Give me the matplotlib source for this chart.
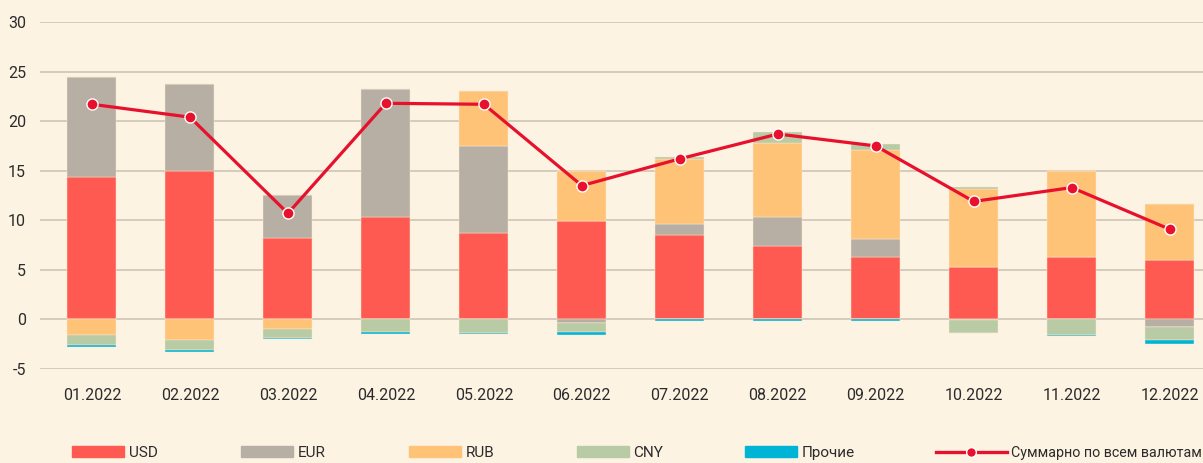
import matplotlib
matplotlib.use("Agg")
import matplotlib.pyplot as plt
import numpy as np
from matplotlib.lines import Line2D
from matplotlib.patches import Patch

months = ["01.2022", "02.2022", "03.2022", "04.2022", "05.2022", "06.2022",
          "07.2022", "08.2022", "09.2022", "10.2022", "11.2022", "12.2022"]

# positive parts
usd_pos = [14.4, 15.0, 8.2, 10.3, 8.7, 9.9, 8.5, 7.4, 6.3, 5.3, 6.3, 6.0]
eur_pos = [10.1, 8.7, 4.4, 12.9, 8.8, 0.0, 1.1, 2.9, 1.8, 0.0, 0.0, 0.0]
rub_pos = [0.0, 0.0, 0.0, 0.0, 5.5, 5.1, 6.6, 7.5, 9.0, 7.9, 8.7, 5.6]
cny_pos = [0.0, 0.0, 0.0, 0.0, 0.0, 0.0, 0.2, 1.1, 0.6, 0.2, 0.0, 0.0]
# negative parts
eur_neg = [0.0, 0.0, 0.0, 0.0, 0.0, -0.4, 0.0, 0.0, 0.0, -0.1, 0.0, -0.77]
rub_neg = [-1.6, -2.1, -1.0, 0.0, 0.0, 0.0, 0.0, 0.0, 0.0, 0.0, 0.0, 0.0]
cny_neg = [-1.0, -1.0, -0.9, -1.3, -1.35, -0.9, 0.0, 0.0, 0.0, -1.3, -1.55, -1.28]
oth_neg = [-0.15, -0.2, -0.1, -0.15, -0.12, -0.25, -0.15, -0.15, -0.15, 0.0, -0.15, -0.4]

total = [21.7, 20.4, 10.7, 21.8, 21.7, 13.5, 16.2, 18.7, 17.5, 11.9, 13.3, 9.1]

yticks = [-5, 0, 5, 10, 15, 20, 25, 30]
legend_labels = ["USD", "EUR", "RUB", "CNY", "Прочие", "Суммарно по всем валютам"]

c_usd = "#FF5A52"
c_eur = "#B7AFA3"
c_rub = "#FFC378"
c_cny = "#B8CBA4"
c_oth = "#00B4D6"
c_line = "#E8112D"
bg = "#FDF3E3"
grid_c = "#CFC5B6"
txt_c = "#2B2B2B"

plt.rcParams["font.family"] = ["Roboto", "DejaVu Sans"]

W, H = 1203, 463
fig = plt.figure(figsize=(W / 100, H / 100), dpi=100, facecolor=bg)
ax = fig.add_axes([0.0333, 0.203, 0.9667, 0.7495])
ax.set_facecolor(bg)

x = np.arange(len(months))
w = 0.5
ekw = dict(width=w, edgecolor="#FBEBD3", linewidth=0.3, zorder=2)

bot = np.zeros(len(x))
for vals, col in [(usd_pos, c_usd), (eur_pos, c_eur), (rub_pos, c_rub), (cny_pos, c_cny)]:
    v = np.array(vals)
    ax.bar(x, v, bottom=bot, color=col, **ekw)
    bot = bot + v

bot = np.zeros(len(x))
for vals, col in [(eur_neg, c_eur), (rub_neg, c_rub), (cny_neg, c_cny), (oth_neg, c_oth)]:
    v = np.array(vals)
    ax.bar(x, v, bottom=bot, color=col, **ekw)
    bot = bot + v

ax.plot(x, total, color=c_line, lw=2.3, zorder=4, marker="o", markersize=8,
        markerfacecolor=c_line, markeredgecolor="white", markeredgewidth=1.0)

ax.set_ylim(-5, 30)
ax.set_xlim(-0.53, 11.34)
ax.set_yticks(yticks)
ax.set_yticklabels([str(t) for t in yticks])
ax.set_xticks(x)
ax.set_xticklabels(months)
ax.tick_params(axis="both", length=0, labelsize=11.5, colors=txt_c)
ax.tick_params(axis="y", pad=10)
ax.tick_params(axis="x", pad=14)
ax.grid(axis="y", color=grid_c, lw=1.2, zorder=0)
ax.set_axisbelow(True)
for s in ax.spines.values():
    s.set_visible(False)

handles = [Patch(color=c_usd), Patch(color=c_eur), Patch(color=c_rub),
           Patch(color=c_cny), Patch(color=c_oth),
           Line2D([0], [0], color=c_line, lw=2.4, marker="o", markersize=7,
                  markerfacecolor=c_line, markeredgecolor="white")]
starts = [72, 241, 409, 577, 745, 936]
for i, (h, lab) in enumerate(zip(handles, legend_labels)):
    last = i == len(handles) - 1
    fs = 10.3 if last else 11
    hl = (71 if last else 52) / (fs * 100 / 72)
    leg = fig.legend([h], [lab], loc="center left",
                     bbox_to_anchor=(starts[i] / W, 0.022),
                     frameon=False, fontsize=fs, handlelength=hl,
                     handleheight=0.7, handletextpad=0.3,
                     borderaxespad=0, borderpad=0)
    for t in leg.get_texts():
        t.set_color(txt_c)

fig.savefig("out.png", dpi=100, facecolor=bg)
